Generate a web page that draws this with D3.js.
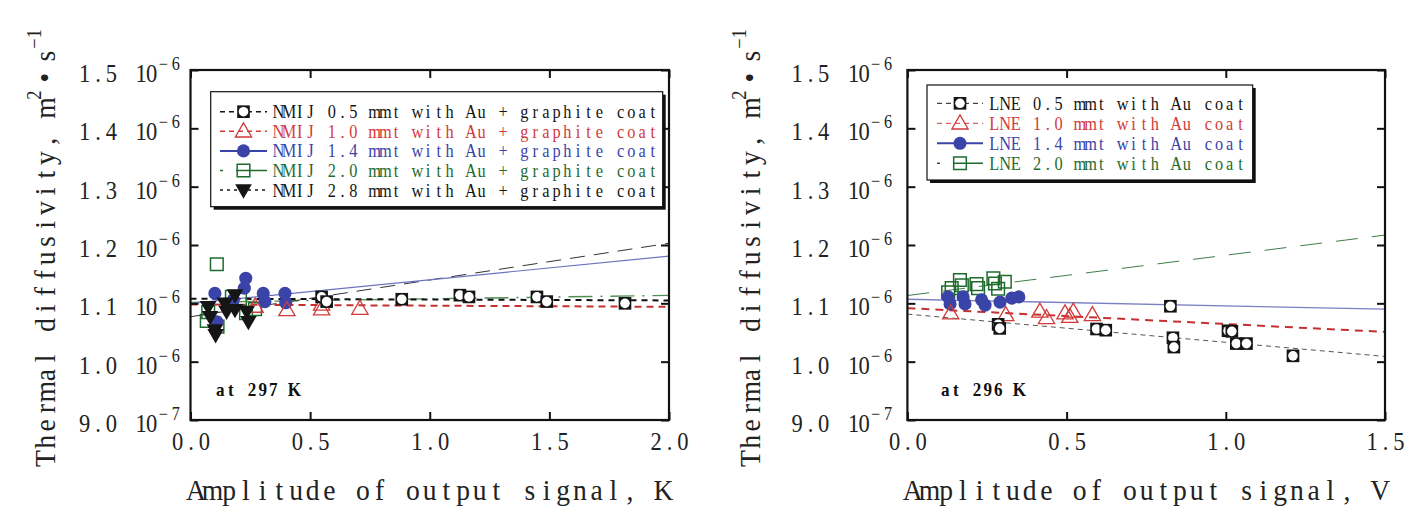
<!DOCTYPE html>
<html><head><meta charset="utf-8">
<script src="https://cdn.jsdelivr.net/npm/d3@7"></script>
<style>body{margin:0;background:#fff}svg{display:block}text{font-family:"Liberation Serif",serif}</style>
</head><body><svg id="c" width="1422" height="523"></svg>
<script>
// ---------- DATA (thermal diffusivity in units of 1e-6 m^2/s) ----------
const yTicks = [0.9, 1.0, 1.1, 1.2, 1.3, 1.4, 1.5];
const yTickMantissa = ["9.0", "1.0", "1.1", "1.2", "1.3", "1.4", "1.5"];
const yTickExponent = ["−7", "−6", "−6", "−6", "−6", "−6", "−6"];

const leftXTicks = [0, 0.5, 1.0, 1.5, 2.0];
const leftXTickLabels = ["0.0", "0.5", "1.0", "1.5", "2.0"];
const rightXTicks = [0, 0.5, 1.0, 1.5];
const rightXTickLabels = ["0.0", "0.5", "1.0", "1.5"];

// Left panel: NMIJ (x = amplitude in K)
const nmij05 = [[0.548,1.111],[0.569,1.103],[0.883,1.107],[1.126,1.114],[1.164,1.111],[1.448,1.111],[1.489,1.103],[1.816,1.100]];
const nmij10 = [[0.27,1.0945],[0.403,1.0886],[0.548,1.098],[0.548,1.090],[0.708,1.091]];
const nmij14 = [[0.102,1.117],[0.231,1.143],[0.225,1.126],[0.304,1.117],[0.311,1.103],[0.395,1.117],[0.398,1.101],[0.11,1.0685],[0.179,1.106]];
const nmij20 = [[0.11,1.167],[0.074,1.085],[0.068,1.070],[0.113,1.060],[0.173,1.111],[0.207,1.107],[0.27,1.090],[0.232,1.083]];
const nmij28 = [[0.074,1.094],[0.082,1.077],[0.102,1.054],[0.105,1.046],[0.144,1.100],[0.151,1.086],[0.186,1.114],[0.186,1.089],[0.235,1.086],[0.242,1.0685]];
const nmij05Fit = [[0,1.108],[2,1.105]];
const nmij10Fit = [[0,1.098],[2,1.094]];
const nmij14Fit = [[0,1.100],[2,1.181]];
const nmij20Fit = [[0,1.1017],[2,1.1137]];
const nmij28Fit = [[0,1.077],[2,1.203]];

// Right panel: LNE (x = amplitude in V)
const lne05 = [[0.285,1.064],[0.29,1.057],[0.594,1.056],[0.623,1.054],[0.826,1.095],[0.834,1.041],[0.837,1.025],[1.007,1.053],[1.019,1.052],[1.033,1.031],[1.065,1.031],[1.211,1.010]];
const lne10 = [[0.136,1.083],[0.309,1.080],[0.416,1.086],[0.437,1.075],[0.495,1.083],[0.510,1.077],[0.521,1.086],[0.581,1.080]];
const lne14 = [[0.128,1.111],[0.134,1.099],[0.175,1.111],[0.181,1.099],[0.233,1.106],[0.244,1.097],[0.291,1.102],[0.328,1.109],[0.350,1.111]];
const lne20 = [[0.128,1.119],[0.139,1.126],[0.165,1.140],[0.171,1.131],[0.217,1.133],[0.222,1.126],[0.270,1.143],[0.275,1.134],[0.285,1.125],[0.306,1.137]];
const lne05Fit = [[0,1.0815],[1.5,1.009]];
const lne10Fit = [[0,1.0917],[1.5,1.051]];
const lne14Fit = [[0,1.107],[1.5,1.090]];
const lne20Fit = [[0,1.1134],[1.5,1.217]];

const leftLegend = ["NMIJ 0.5 mmt with Au + graphite coat","NMIJ 1.0 mmt with Au + graphite coat","NMIJ 1.4 mmt with Au + graphite coat","NMIJ 2.0 mmt with Au + graphite coat","NMIJ 2.8 mmt with Au + graphite coat"];
const rightLegend = ["LNE 0.5 mmt with Au coat","LNE 1.0 mmt with Au coat","LNE 1.4 mmt with Au coat","LNE 2.0 mmt with Au coat"];

// ---------- STYLES ----------
const C = {black:"#151515", red:"#d23a3a", blue:"#3a44a8", green:"#1f6b2e", text:"#222"};
const svg = d3.select("#c");

// fixed-pitch serif text (each glyph centred in its own cell, condensed horizontally)
function mono(parent, o) {
  const sx = o.sx || 0.9;
  const total = d3.sum(o.segs, s => s.t.length * s.adv);
  const off = o.anchor === "end" ? -total : o.anchor === "middle" ? -total/2 : 0;
  const g = parent.append("g").attr("transform", `translate(${o.x},${o.y}) rotate(${o.rotate||0}) translate(${off},0) scale(${sx},1)`);
  const text = g.append("text").attr("fill", o.fill || C.text).attr("font-family","Liberation Serif")
    .attr("font-weight", o.weight || null).attr("text-anchor","middle");
  let cur = 0;
  o.segs.forEach(s => {
    const xs = [], chars = [];
    [...s.t].forEach((ch,i) => { if (ch !== " ") { xs.push(((cur + (i+0.5)*s.adv)/sx).toFixed(2)); chars.push(ch); } });
    cur += s.t.length * s.adv;
    if (chars.length) text.append("tspan").attr("x", xs.join(" ")).attr("y", s.dy || 0).attr("font-size", s.size).text(chars.join(""));
  });
  return g;
}

function drawMarker(g, type, cx, cy) {
  if (type === "sqc") {
    g.append("path").attr("d", d3.symbol(d3.symbolSquare, 160)()).attr("transform",`translate(${cx},${cy})`).attr("fill",C.black);
    g.append("circle").attr("cx",cx).attr("cy",cy).attr("r",4.8).attr("fill","#fff");
  } else if (type === "tri") {
    g.append("path").attr("d", d3.symbol(d3.symbolTriangle, 115)()).attr("transform",`translate(${cx},${cy+1})`).attr("fill","none").attr("stroke",C.red).attr("stroke-width",1.3);
  } else if (type === "circ") {
    g.append("path").attr("d", d3.symbol(d3.symbolCircle, 135)()).attr("transform",`translate(${cx},${cy})`).attr("fill",C.blue);
  } else if (type === "sq") {
    g.append("path").attr("d", d3.symbol(d3.symbolSquare, 160)()).attr("transform",`translate(${cx},${cy})`).attr("fill","none").attr("stroke",C.green).attr("stroke-width",1.5);
  } else if (type === "dtri") {
    g.append("path").attr("d", d3.symbol(d3.symbolTriangle, 120)()).attr("transform",`translate(${cx},${cy-1}) rotate(180)`).attr("fill",C.black);
  }
}

function panel(cfg) {
  const [x0,x1,y0,y1] = cfg.box;
  const x = d3.scaleLinear().domain(cfg.xDomain).range([x0,x1]);
  const y = d3.scaleLinear().domain([0.9,1.5]).range([y1,y0]);
  const g = svg.append("g");
  const clipId = "clip" + cfg.id;
  svg.append("clipPath").attr("id",clipId).append("rect").attr("x",x0).attr("y",y0).attr("width",x1-x0).attr("height",y1-y0);

  const line = d3.line().x(d=>x(d[0])).y(d=>y(d[1]));
  const lg = g.append("g").attr("clip-path",`url(#${clipId})`);
  cfg.fits.forEach(f => {
    lg.append("path").attr("d", line(f.data)).attr("fill","none")
      .attr("stroke", f.color).attr("stroke-width", f.w).attr("stroke-dasharray", f.dash || null);
  });
  const mg = g.append("g");
  cfg.series.forEach(s => s.data.forEach(d => drawMarker(mg, s.type, x(d[0]), y(d[1]))));

  // axes
  const styleAxis = a => { a.select(".domain").remove(); a.selectAll(".tick line").attr("stroke","#111").attr("stroke-width",2); a.selectAll(".tick text").remove(); };
  const xa = g.append("g").attr("transform",`translate(0,${y1})`)
    .call(d3.axisBottom(x).tickValues(cfg.xTicks).tickSizeInner(-8).tickSizeOuter(0).tickFormat(""))
    .call(styleAxis);
  xa.selectAll(".tick").each(function(d,i){
    mono(d3.select(this), {x:0, y:30, anchor:"middle", segs:[{t:cfg.xLabels[i], adv:13.3, size:25}]});
  });
  g.append("g").attr("transform",`translate(0,${y0})`)
    .call(d3.axisTop(x).tickValues(cfg.xTicks).tickSizeInner(-8).tickSizeOuter(0).tickFormat(""))
    .call(styleAxis);
  g.append("g").attr("transform",`translate(${x1},0)`)
    .call(d3.axisRight(y).tickValues(yTicks).tickSizeInner(-8).tickSizeOuter(0).tickFormat(""))
    .call(styleAxis);
  const ya = g.append("g").attr("transform",`translate(${x0},0)`)
    .call(d3.axisLeft(y).tickValues(yTicks).tickSizeInner(-8).tickSizeOuter(0).tickFormat(""))
    .call(styleAxis);
  ya.selectAll(".tick").each(function(d,i){
    mono(d3.select(this), {x:-cfg.labelGap, y:11.5, anchor:"end", segs:[
      {t:yTickMantissa[i], adv:13.3, size:25},
      {t:" ", adv:18, size:25},
      {t:"10", adv:10.5, size:25},
      {t:yTickExponent[i], adv:12.5, size:18, dy:-12}
    ]});
  });

  // frame
  g.append("rect").attr("x",x0).attr("y",y0).attr("width",x1-x0).attr("height",y1-y0)
    .attr("fill","none").attr("stroke","#111").attr("stroke-width",2.2);

  // legend
  const L = cfg.legend;
  g.append("rect").attr("x",L.x+3).attr("y",L.y+3).attr("width",L.w).attr("height",L.h).attr("fill","#111");
  g.append("rect").attr("x",L.x).attr("y",L.y).attr("width",L.w).attr("height",L.h).attr("fill","#fff").attr("stroke","#111").attr("stroke-width",1.2);
  L.labels.forEach((lab,i) => {
    const s = cfg.series.find(q => q.idx === i);
    const cy = L.row0 + i*L.dy;
    g.append("line").attr("x1",L.sx0).attr("x2",L.sx1).attr("y1",cy).attr("y2",cy)
      .attr("stroke",s.lcolor).attr("stroke-width",s.lw).attr("stroke-dasharray",s.ldash||null);
    drawMarker(g, s.type, (L.sx0+L.sx1)/2, cy);
    mono(g, {x:L.tx, y:cy+6.5, fill:s.tcolor, sx:0.86, segs:[{t:lab, adv:10.7, size:19}]});
  });

  // temperature note
  mono(g, {x:cfg.note.x, y:cfg.note.y, fill:"#111", weight:"bold", sx:0.95, segs:[{t:cfg.note.text, adv:10.6, size:18}]});

  // axis titles
  mono(g, {x:x0-3, y:500, sx:0.92, segs:[{t:cfg.xTitle, adv:16.7, size:30}]});
  mono(g, {x:cfg.yTitleX, y:467, rotate:-90, sx:0.92, segs:[
    {t:"Thermal diffusivity, m", adv:16.7, size:30},
    {t:"2", adv:9, size:20, dy:-14},
    {t:" ", adv:7, size:30},
    {t:"•", adv:12, size:30},
    {t:" ", adv:8, size:30},
    {t:"s", adv:15, size:30},
    {t:"−1", adv:10, size:20, dy:-14}
  ]});
}

panel({
  id:"L", box:[190.5,669,70,420], xDomain:[0,2], xTicks:leftXTicks, xLabels:leftXTickLabels, labelGap:8.5,
  fits:[
    {data:nmij20Fit, color:"#4f8f55", w:1.4, dash:"24,8,2,8"},
    {data:nmij28Fit, color:"#333", w:1, dash:"15,9"},
    {data:nmij14Fit, color:"#6d72bd", w:1.2},
    {data:nmij10Fit, color:"#c53030", w:2, dash:"7,5"},
    {data:nmij05Fit, color:"#111", w:2, dash:"6,5"}
  ],
  series:[
    {idx:3, data:nmij20, type:"sq", lcolor:C.green, lw:1.5, ldash:"3,13,60", tcolor:C.green},
    {idx:2, data:nmij14, type:"circ", lcolor:C.blue, lw:2, tcolor:C.blue},
    {idx:1, data:nmij10, type:"tri", lcolor:C.red, lw:1.5, ldash:"5,4", tcolor:C.red},
    {idx:4, data:nmij28, type:"dtri", lcolor:C.black, lw:1.5, ldash:"3,4", tcolor:C.black},
    {idx:0, data:nmij05, type:"sqc", lcolor:C.black, lw:1.5, ldash:"5,4", tcolor:C.black}
  ],
  legend:{x:210.7, y:91.7, w:452, h:115, row0:111.7, dy:19.6, sx0:220, sx1:267, tx:273, labels:leftLegend},
  note:{x:215, y:396, text:"at 297 K"},
  xTitle:"Amplitude of output signal, K", yTitleX:55
});

panel({
  id:"R", box:[907.4,1385,70,420], xDomain:[0,1.5], xTicks:rightXTicks, xLabels:rightXTickLabels, labelGap:13,
  fits:[
    {data:lne20Fit, color:"#3f7d48", w:1, dash:"22,14"},
    {data:lne14Fit, color:"#7a7fc2", w:1.3},
    {data:lne10Fit, color:"#c53030", w:2, dash:"8,6"},
    {data:lne05Fit, color:"#555", w:1, dash:"5,4"}
  ],
  series:[
    {idx:3, data:lne20, type:"sq", lcolor:C.green, lw:1.5, ldash:"3,13,60", tcolor:C.green},
    {idx:2, data:lne14, type:"circ", lcolor:C.blue, lw:2, tcolor:C.blue},
    {idx:1, data:lne10, type:"tri", lcolor:C.red, lw:1, ldash:"5,4", tcolor:C.red},
    {idx:0, data:lne05, type:"sqc", lcolor:C.black, lw:1, ldash:"5,4", tcolor:C.black}
  ],
  legend:{x:927, y:85, w:325.7, h:95, row0:103.3, dy:20, sx0:937, sx1:983, tx:989, labels:rightLegend},
  note:{x:940, y:396, text:"at 296 K"},
  xTitle:"Amplitude of output signal, V", yTitleX:760
});
</script></body></html>
